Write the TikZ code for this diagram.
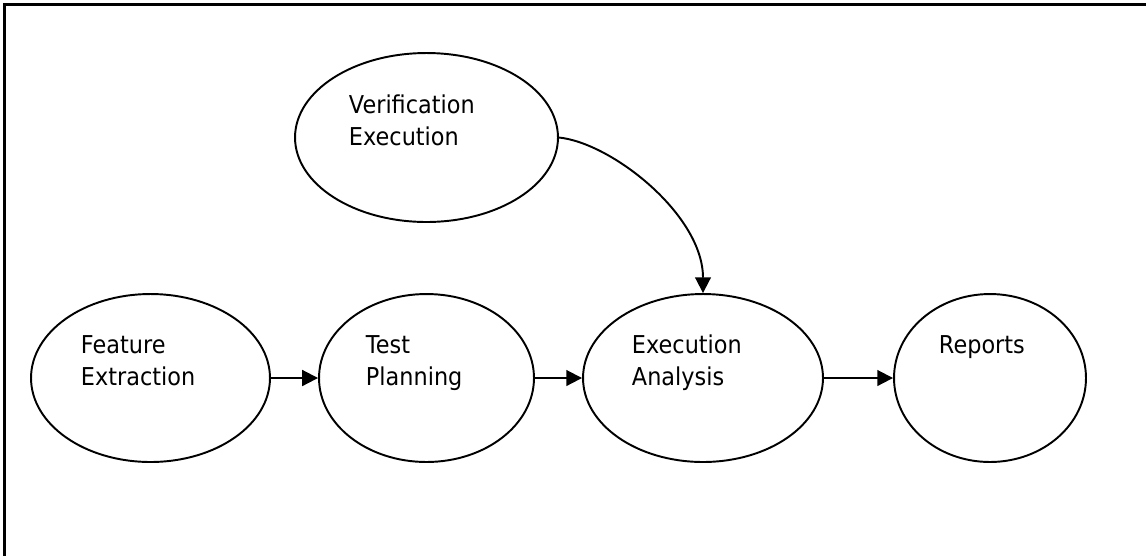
\documentclass[tikz,border=0pt]{standalone}
\usepackage{fontspec}
\setmainfont{DejaVu Sans}[FakeStretch=0.91]
\usetikzlibrary{shapes.geometric}
\usetikzlibrary{arrows.meta,positioning}

\begin{document}
\begin{tikzpicture}[x=0.02cm, y=-0.02cm, line width=1.1pt]
\tikzset{arr/.style={-{Triangle[length=9pt,width=9pt]}}, %%
         lbl/.style={anchor=base west, align=left, inner sep=0pt, font=\fontsize{14pt}{18.2pt}\selectfont}}
\useasboundingbox (0,0) rectangle (1146,556);
\draw[line width=1.3pt] (4.5,556) -- (4.5,4.5) -- (1146,4.5); %%
\begin{scope}[shape=ellipse, inner sep=0pt, minimum height=3.36cm]
\tikzstyle{every node}=[draw] %%
\node[minimum width=4.78cm] (feat) at (150.5,378) {}; %%
\node[minimum width=4.30cm] (plan) at (426.5,378) {}; %%
\node[minimum width=4.80cm] (exec) at (703,378) {}; %%
\node[minimum width=3.84cm] (rep) at (990,378) {}; %%
\node[minimum width=5.26cm, minimum height=3.38cm] (verif) at (426.5,137.5) {}; %%
\end{scope}
\node[lbl] (featT) at (80,385.5) {Feature\\Extraction}; %%
\node[lbl] (planT) at (365,385.5) {Test\\Planning}; %%
\node[lbl] (execT) at (631,385.5) {Execution\\Analysis}; %%
\node[lbl] (repT) at (938,353.5) {Reports}; %%
\node[lbl] (verifT) at (348,145) {Verification\\Execution}; %%
\draw[arr] (feat.east) -- (plan.west); %%
\draw[arr] (plan.east) -- (exec.west); %%
\draw[arr] (exec.east) -- (rep.west); %%
\draw[arr] (verif.east) .. controls (612,143) and (703,215) .. (exec.north); %%
\end{tikzpicture}
\end{document}
